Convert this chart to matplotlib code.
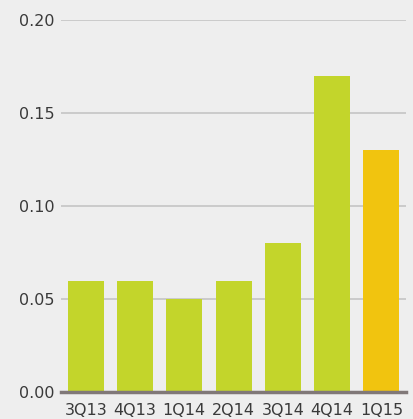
import matplotlib
matplotlib.use("Agg")
import matplotlib.pyplot as plt
import numpy as np

quarters = ['3Q13', '4Q13', '1Q14', '2Q14', '3Q14', '4Q14', '1Q15']
values = [0.06, 0.06, 0.05, 0.06, 0.08, 0.17, 0.13]
colors = ['#c3d52b'] * 6 + ['#f1c40f']

bg = '#eeeeee'
fig = plt.figure(figsize=(4.13, 4.19), dpi=100, facecolor=bg)
ax = fig.add_axes([0.148, 0.064, 0.835, 0.888], facecolor=bg)

x = np.arange(len(quarters))
ax.bar(x, values, 0.73, color=colors, zorder=2)

ax.set_xlim(-0.5, 6.5)
ax.set_ylim(0, 0.20)
ax.set_yticks([0, 0.05, 0.10, 0.15, 0.20])
ax.set_yticklabels(['0.00', '0.05', '0.10', '0.15', '0.20'])
ax.set_xticks(x)
ax.set_xticklabels(quarters)

ax.yaxis.grid(True, color='#c8c8c8', linewidth=1.3, zorder=1)
ax.set_axisbelow(True)
for s in ['top', 'right', 'left']:
    ax.spines[s].set_visible(False)
ax.spines['bottom'].set_color('#807878')
ax.spines['bottom'].set_linewidth(2.5)
ax.spines['bottom'].set_zorder(3)
ax.tick_params(axis='both', length=0, labelsize=11.5, colors='#3a3a3a')
ax.tick_params(axis='x', pad=8)
ax.tick_params(axis='y', pad=4.5)

fig.savefig('out.png', dpi=100, facecolor=bg)
